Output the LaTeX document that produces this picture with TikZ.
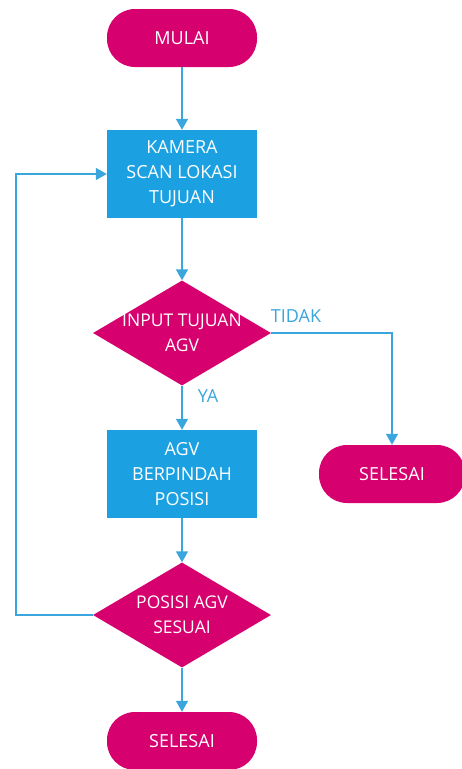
\documentclass[tikz,border=0pt]{standalone}
\usepackage{fontspec}
\setmainfont{Open Sans}
\usetikzlibrary{shapes.geometric,arrows.meta}
\definecolor{mag}{RGB}{214,0,110}
\definecolor{boxblue}{RGB}{27,161,226}
\definecolor{lineblue}{RGB}{58,166,221}
\begin{document}
\begin{tikzpicture}[x=1pt,y=-1pt,
  term/.style={draw=none,fill=mag,rounded corners=28pt,minimum width=150pt,minimum height=58pt,inner sep=0pt,text=white,font=\fontsize{18}{25}\selectfont},
  proc/.style={draw=none,fill=boxblue,minimum width=150pt,minimum height=88pt,inner sep=0pt,text=white,align=center,font=\fontsize{18}{25}\selectfont},
  dec/.style={diamond,draw=none,fill=mag,minimum width=178pt,minimum height=105pt,inner sep=0pt},
  dtxt/.style={text=white,align=center,font=\fontsize{17.5}{25}\selectfont,inner sep=0pt},
  lbl/.style={text=lineblue,font=\fontsize{18}{20}\selectfont,inner sep=0pt},
  conn/.style={draw=lineblue,line width=1.4pt,-{Triangle[width=12pt,length=11pt]}}]
\useasboundingbox (0,0) rectangle (462,769);
\node[term] (start) at (182,38) {MULAI};
\node[proc] (scan) at (182,174) {KAMERA\\SCAN LOKASI\\TUJUAN};
\node[dec] (d1) at (182,333) {};
\node[dtxt] (d1t) at (182,333) {INPUT TUJUAN\\AGV};
\node[proc] (move) at (182,474) {AGV\\BERPINDAH\\POSISI};
\node[term, minimum width=146pt] (end1) at (392,474) {SELESAI};
\node[dec] (d2) at (182,615) {};
\node[dtxt] (d2t) at (182,615) {POSISI AGV\\SESUAI};
\node[term] (end2) at (182,741) {SELESAI};
\coordinate (c1) at (end1.north |- d1.east);
\coordinate (c2) at (16,615);
\coordinate (c3) at (16,174);
\node[lbl] (tidak) at (296,316) {TIDAK};
\node[lbl] (ya) at (208,396) {YA};
\draw[conn] (start) -- (scan);
\draw[conn] (scan) -- (d1);
\draw[conn] (d1) -- (move);
\draw[conn] (d1.east) -- (c1) -- (end1.north);
\draw[conn] (move) -- (d2);
\draw[conn] (d2) -- (end2);
\draw[conn] (d2.west) -- (c2) -- (c3) -- (scan.west);
\end{tikzpicture}
\end{document}
